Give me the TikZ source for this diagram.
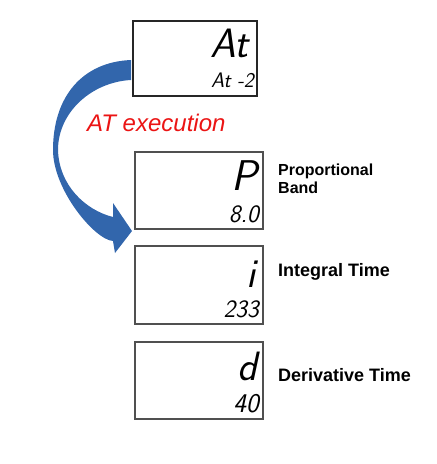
\documentclass[tikz,border=0pt]{standalone}
\usepackage{fontspec}
\setmainfont{Liberation Sans}
\usepackage{tikz}
\usetikzlibrary{calc,positioning}
\definecolor{atblue}{RGB}{50,102,172}
\definecolor{atred}{RGB}{235,20,20}
\definecolor{lcdframe}{RGB}{80,80,80}

\begin{document}
\begin{tikzpicture}[
  x=1pt, y=-1pt,
  lcd/.style={draw=lcdframe, line width=1.1pt, minimum width=128pt,
    minimum height=77pt, inner sep=0pt},
  segbig/.style={font=\fontsize{41}{41}\sffamily\slshape, inner sep=0pt, anchor=base east},
  segsmall/.style={font=\fontsize{25}{25}\sffamily\slshape, inner sep=0pt, anchor=base east},
  parlabel/.style={font=\fontsize{18}{18}\bfseries, anchor=base west, inner sep=0pt,
    align=left},
  steplabel/.style={font=\fontsize{24}{24}\itshape, text=atred, inner sep=0pt}
]
\useasboundingbox (0,0) rectangle (437,464);

% display boxes
\node[lcd, draw=black!85, minimum width=124pt, minimum height=75pt] (dispAt) at (195,58.5) {};
\node[lcd] (dispP) at (199,190.5) {};
\node[lcd, minimum height=78pt] (dispI) at (199,285) {};
\node[lcd] (dispD) at (199,380.5) {};

% readouts
\node[segbig] (codeAt) at (249,57) {At};
\node[segsmall, font=\fontsize{21}{21}\sffamily\slshape] (valAt) at (254,87) {At -2};
\node[segbig, font=\fontsize{43}{43}\sffamily\slshape] (codeP) at (257,190) {P};
\node[segsmall] (valP) at (259,222) {8.0};
\node[segbig] (codeI) at (256,287) {i};
\node[segsmall] (valI) at (259,317) {233};
\node[segbig] (codeD) at (258,380) {d};
\node[segsmall, font=\fontsize{27}{27}\sffamily\slshape] (valD) at (259,412) {40};

% parameter names
\node[parlabel, font=\fontsize{16}{16.7}\bfseries] (labP) at (278,193.3) {Proportional\\[0.7pt]Band};
\node[parlabel] (labI) at (278,276) {Integral Time};
\node[parlabel] (labD) at (278,381.5) {Derivative Time};

% auto-tuning arrow
\node[steplabel, anchor=base west] (atrun) at (87,131) {AT execution};
\fill[atblue]
  (131,60) .. controls (82,62) and (53,97) .. (53,150)
  .. controls (53,190) and (95,240) .. (113,241)
  -- (115,253) -- (132,231) -- (113,203) -- (113,217)
  .. controls (85,210) and (59,185) .. (58,150)
  .. controls (58,112) and (92,82) .. (131,80) -- cycle;
\end{tikzpicture}
\end{document}
